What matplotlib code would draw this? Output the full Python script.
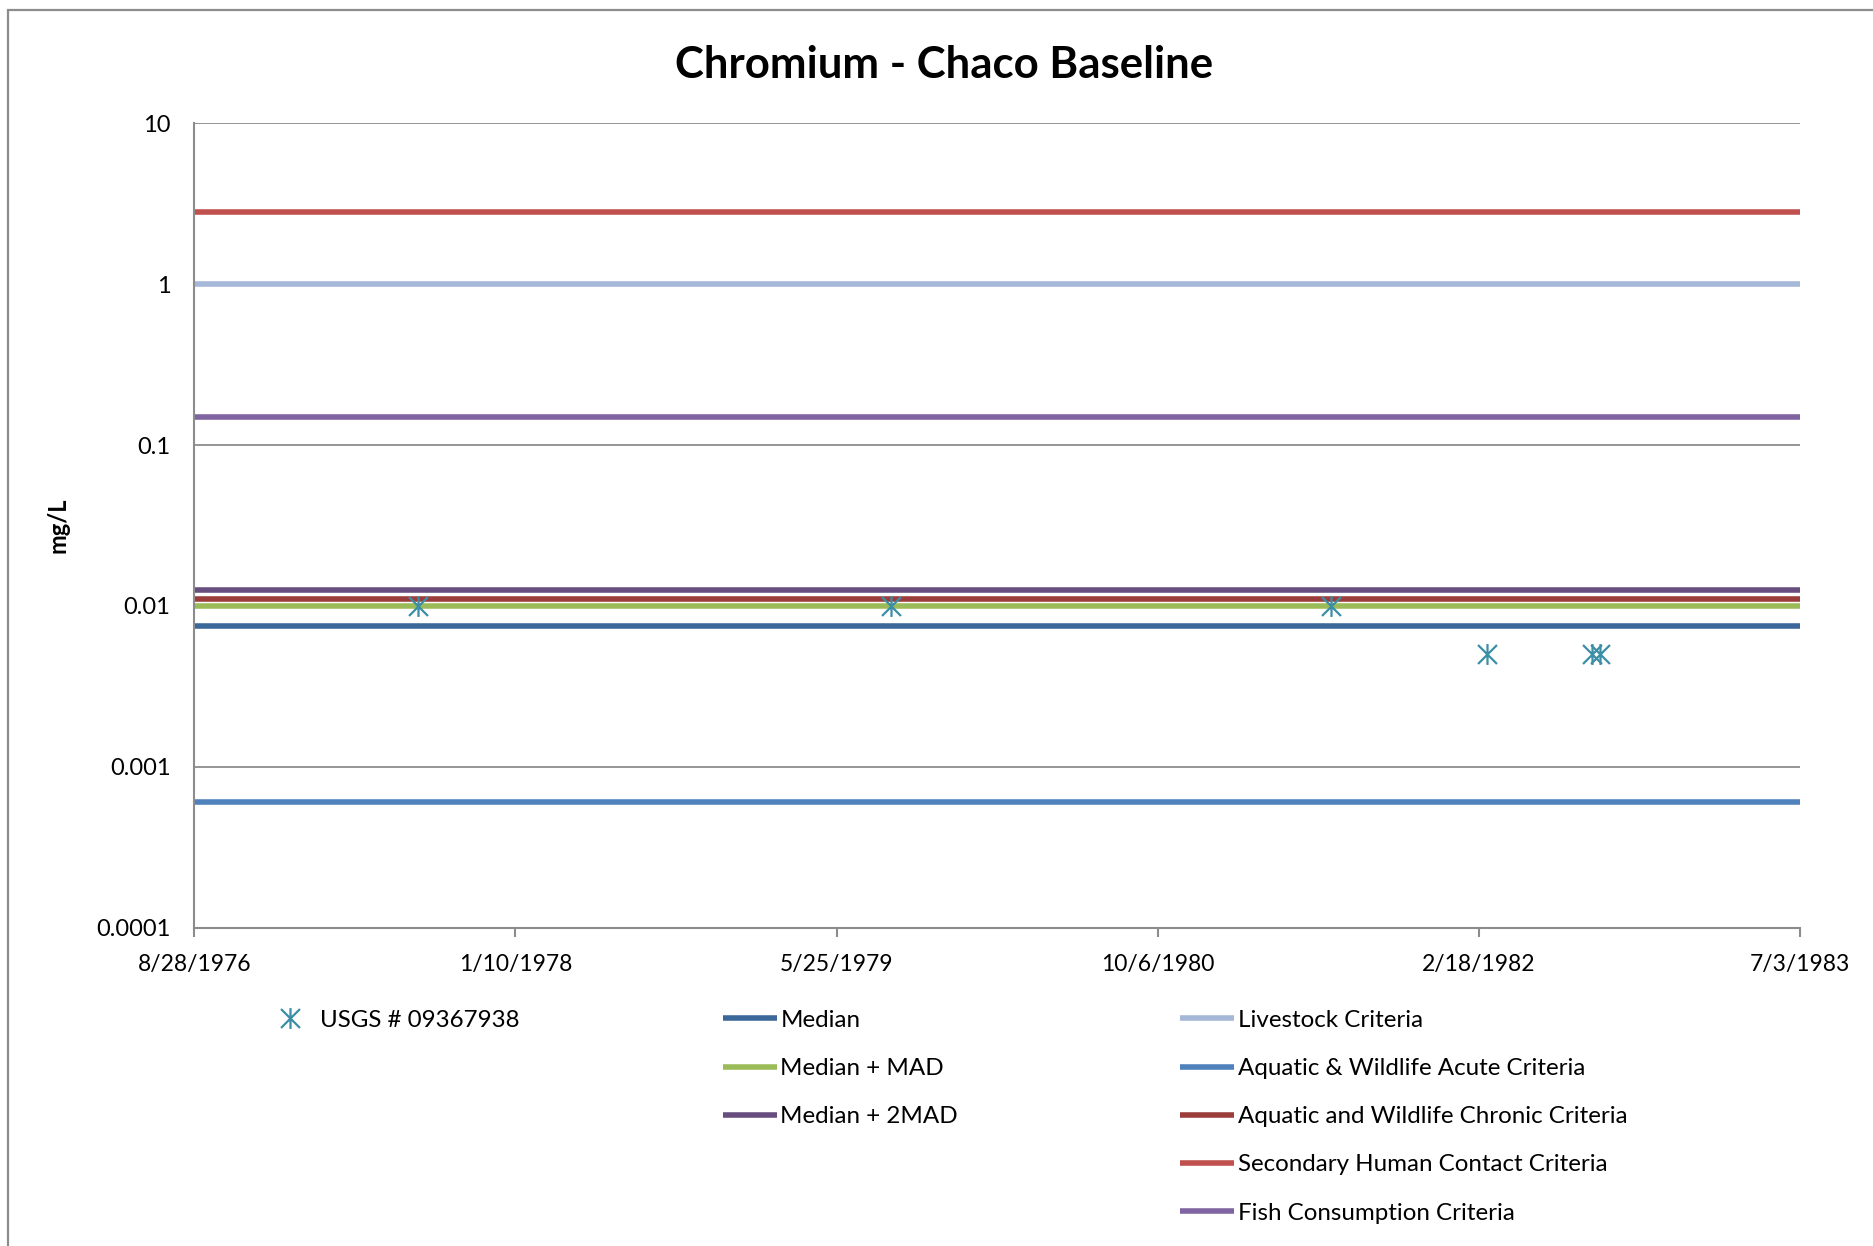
import datetime as dt

import matplotlib
matplotlib.use("Agg")
import matplotlib.pyplot as plt
from matplotlib.patches import Rectangle
from matplotlib.path import Path

plt.rcParams["font.family"] = ["Lato", "DejaVu Sans"]

# sample data (USGS # 09367938)
sample_dates = [dt.date(1977, 8, 11), dt.date(1979, 8, 18), dt.date(1981, 7, 3),
                dt.date(1982, 3, 3), dt.date(1982, 8, 14), dt.date(1982, 8, 25)]
sample_values = [0.01, 0.01, 0.01, 0.005, 0.005, 0.005]

# reference lines (mg/L)
stat_names = ["Median", "Median + MAD", "Median + 2MAD"]
stat_values = [0.0075, 0.01, 0.0125]
stat_colors = ["#3C6799", "#9BBB59", "#674E7F"]

criteria_names = ["Livestock Criteria", "Aquatic & Wildlife Acute Criteria",
                  "Aquatic and Wildlife Chronic Criteria", "Secondary Human Contact Criteria",
                  "Fish Consumption Criteria"]
criteria_values = [1.0, 0.0006, 0.011, 2.8, 0.15]
criteria_colors = ["#A5B8D7", "#4F81BD", "#9B3D3A", "#C0504D", "#8064A2"]

x_start = dt.date(1976, 8, 28)
x_end = dt.date(1983, 7, 3)
tick_step_days = 500

# excel-style star marker: an X with a vertical bar through it
star = Path([(-1, -1), (1, 1), (-1, 1), (1, -1), (0, -1.1), (0, 1.1)],
            [Path.MOVETO, Path.LINETO, Path.MOVETO, Path.LINETO, Path.MOVETO, Path.LINETO])

fig = plt.figure(figsize=(18.73, 12.46), dpi=100)
ax = fig.add_axes([0.1037, 0.2555, 0.8573, 0.6455])

line_x = [x_start, x_end]
stat_handles = []
for name, value, color in zip(stat_names, stat_values, stat_colors):
    h, = ax.plot(line_x, [value, value], color=color, lw=4, solid_capstyle="butt", zorder=2)
    stat_handles.append(h)
crit_handles = []
for name, value, color in zip(criteria_names, criteria_values, criteria_colors):
    h, = ax.plot(line_x, [value, value], color=color, lw=4, solid_capstyle="butt", zorder=2)
    crit_handles.append(h)

pts, = ax.plot(sample_dates, sample_values, linestyle="none", marker=star, markersize=15,
               markeredgewidth=1.6, color="#3B8EA5", zorder=3)

ax.set_yscale("log")
ax.set_ylim(0.0001, 10)
ax.set_xlim(x_start, x_end)
ax.set_yticks([0.0001, 0.001, 0.01, 0.1, 1, 10])
ax.set_yticklabels(["0.0001", "0.001", "0.01", "0.1", "1", "10"])
ax.yaxis.set_minor_locator(matplotlib.ticker.NullLocator())

ticks = []
d = x_start
while d <= x_end:
    ticks.append(d)
    d = d + dt.timedelta(days=tick_step_days)
ax.set_xticks(ticks)
ax.set_xticklabels([f"{t.month}/{t.day}/{t.year}" for t in ticks])

ax.grid(axis="y", which="major", color="#8C8C8C", lw=1.3, zorder=1)
ax.set_axisbelow(True)
for s in ["top", "right"]:
    ax.spines[s].set_visible(False)
for s in ["left", "bottom"]:
    ax.spines[s].set_color("#8C8C8C")
    ax.spines[s].set_linewidth(1.5)
ax.tick_params(axis="y", length=0, pad=17, labelsize=17)
ax.tick_params(axis="x", length=6.5, width=1.5, color="#8C8C8C", pad=12.5, labelsize=16.5)

ax.set_ylabel("mg/L", fontsize=17, fontweight="bold", labelpad=19)

fig.text(0.504, 0.948, "Chromium - Chaco Baseline", ha="center", va="center",
         fontsize=31.5, fontweight="bold")

legend_kw = dict(loc="upper left", frameon=False, fontsize=17.4, borderpad=0,
                 handlelength=2.23, handletextpad=0.15, labelspacing=1.125, borderaxespad=0)
fig.legend([pts], ["USGS # 09367938"], bbox_to_anchor=(0.1404, 0.1895), **legend_kw)
fig.legend(stat_handles, stat_names, bbox_to_anchor=(0.386, 0.1895), **legend_kw)
fig.legend(crit_handles, criteria_names, bbox_to_anchor=(0.630, 0.1895), **legend_kw)

fig.patches.append(Rectangle((0.0043, -0.1), 1.2, 1.092, transform=fig.transFigure,
                             fill=False, edgecolor="#8C8C8C", lw=1.6))

fig.savefig("out.png", dpi=100)
